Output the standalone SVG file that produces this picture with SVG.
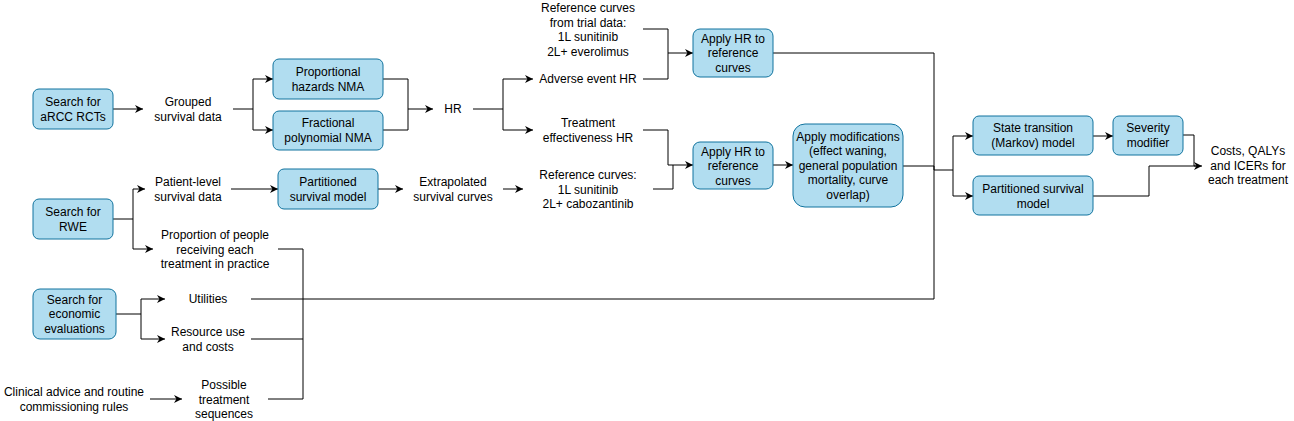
<svg xmlns="http://www.w3.org/2000/svg" width="1294" height="421" viewBox="0 0 1294 421">
<defs>
<marker id="arr" viewBox="0 0 10 10" refX="10" refY="5" markerWidth="9" markerHeight="8" markerUnits="userSpaceOnUse" orient="auto">
<path d="M0,0 L10,5 L0,10 L3,5 z" fill="#000"/>
</marker>
<style>
.n{fill:#b1ddf0;stroke:#10739e;stroke-width:1}
text{font-family:"Liberation Sans",Arial,Helvetica,sans-serif;font-size:12px;fill:#000;text-anchor:middle}
.c path{fill:none;stroke:#000;stroke-width:1}
.a{marker-end:url(#arr)}
</style>
</defs>
<rect width="1294" height="421" fill="#fff"/>

<g class="c" id="connectors">
<path class="a" d="M113,109 H143"/>
<path class="a" d="M233,109 H253 V79 H273"/>
<path class="a" d="M253,109 V130 H273"/>
<path class="a" d="M383,79 H408 V109 H433"/>
<path d="M383,130 H408 V109"/>
<path class="a" d="M473,109 H503 V79 H533"/>
<path class="a" d="M503,109 V130 H533"/>
<path class="a" d="M643,29 H668 V53 H693"/>
<path d="M643,79 H668 V53"/>
<path class="a" d="M643,130 H668 V165 H693"/>
<path d="M653,189 H673 V165"/>
<path class="a" d="M503,189 H523"/>
<path class="a" d="M378,189 H403"/>
<path class="a" d="M231,189 H278"/>
<path class="a" d="M113,219 H133 V189 H145"/>
<path class="a" d="M133,219 V249 H153"/>
<path d="M773,53 H934 V299"/>
<path d="M251,299 H934"/>
<path class="a" d="M773,165 H793"/>
<path d="M903,166 H934 V170 H953"/>
<path class="a" d="M953,170 V136 H973"/>
<path class="a" d="M953,170 V196 H973"/>
<path class="a" d="M1093,136 H1113"/>
<path class="a" d="M1183,135 H1194 V166 H1202"/>
<path d="M1093,196 H1149 V166 H1196"/>
<path class="a" d="M116,314 H141 V299 H165"/>
<path class="a" d="M141,314 V339 H165"/>
<path d="M278,249 H303 V399 H268"/>
<path d="M251,339 H303"/>
<path class="a" d="M150,399 H182"/>
</g>

<g id="search-arcc"><rect class="n" x="33" y="89" width="80" height="40" rx="6"/><text x="73" y="106">Search for</text><text x="73" y="120.5">aRCC RCTs</text></g>
<g id="search-rwe"><rect class="n" x="33" y="199" width="80" height="40" rx="6"/><text x="73" y="216">Search for</text><text x="73" y="230.5">RWE</text></g>
<g id="search-econ"><rect class="n" x="33" y="289" width="83" height="50" rx="7"/><text x="74.5" y="303.5">Search for</text><text x="74.5" y="318">economic</text><text x="74.5" y="332.5">evaluations</text></g>
<g id="ph-nma"><rect class="n" x="273" y="59" width="110" height="40" rx="6"/><text x="328" y="76">Proportional</text><text x="328" y="90.5">hazards NMA</text></g>
<g id="fp-nma"><rect class="n" x="273" y="111" width="110" height="39" rx="6"/><text x="328" y="127">Fractional</text><text x="328" y="141.5">polynomial NMA</text></g>
<g id="psm-left"><rect class="n" x="278" y="169" width="100" height="40" rx="6"/><text x="328" y="186">Partitioned</text><text x="328" y="200.5">survival model</text></g>
<g id="apply-hr-top"><rect class="n" x="693" y="29" width="80" height="48" rx="7"/><text x="733" y="42.5">Apply HR to</text><text x="733" y="57">reference</text><text x="733" y="71.5">curves</text></g>
<g id="apply-hr-bottom"><rect class="n" x="693" y="142" width="80" height="47" rx="7"/><text x="733" y="155.5">Apply HR to</text><text x="733" y="170">reference</text><text x="733" y="184.5">curves</text></g>
<g id="apply-mod"><rect class="n" x="793" y="124" width="110" height="83" rx="12"/><text x="848" y="140.5">Apply modifications</text><text x="848" y="155">(effect waning,</text><text x="848" y="169.5">general population</text><text x="848" y="184">mortality, curve</text><text x="848" y="198.5">overlap)</text></g>
<g id="markov"><rect class="n" x="973" y="116" width="120" height="39" rx="6"/><text x="1033" y="132">State transition</text><text x="1033" y="146.5">(Markov) model</text></g>
<g id="severity"><rect class="n" x="1113" y="116" width="70" height="39" rx="6"/><text x="1148" y="132">Severity</text><text x="1148" y="146.5">modifier</text></g>
<g id="psm-right"><rect class="n" x="973" y="176" width="120" height="39" rx="6"/><text x="1033" y="193">Partitioned survival</text><text x="1033" y="207.5">model</text></g>

<g id="grouped"><text x="188" y="106">Grouped</text><text x="188" y="120.5">survival data</text></g>
<g id="patient-level"><text x="188" y="186">Patient-level</text><text x="188" y="200.5">survival data</text></g>
<g id="proportion"><text x="215" y="239">Proportion of people</text><text x="215" y="253.5">receiving each</text><text x="215" y="268">treatment in practice</text></g>
<g id="utilities"><text x="208" y="303">Utilities</text></g>
<g id="resource"><text x="208" y="336">Resource use</text><text x="208" y="350.5">and costs</text></g>
<g id="clinical"><text x="74" y="396">Clinical advice and routine</text><text x="74" y="410.5">commissioning rules</text></g>
<g id="sequences"><text x="224" y="389">Possible</text><text x="224" y="403.5">treatment</text><text x="224" y="418">sequences</text></g>
<g id="hr"><text x="453" y="113">HR</text></g>
<g id="ref-trial"><text x="588" y="12">Reference curves</text><text x="588" y="26.5">from trial data:</text><text x="588" y="41">1L sunitinib</text><text x="588" y="55.5">2L+ everolimus</text></g>
<g id="ae-hr"><text x="588" y="83">Adverse event HR</text></g>
<g id="te-hr"><text x="588" y="127">Treatment</text><text x="588" y="141.5">effectiveness HR</text></g>
<g id="ref-curves"><text x="588" y="179">Reference curves:</text><text x="588" y="193.5">1L sunitinib</text><text x="588" y="208">2L+ cabozantinib</text></g>
<g id="extrapolated"><text x="453" y="186">Extrapolated</text><text x="453" y="200.5">survival curves</text></g>
<g id="outcomes"><text x="1248" y="155">Costs, QALYs</text><text x="1248" y="169.5">and ICERs for</text><text x="1248" y="184">each treatment</text></g>
</svg>
